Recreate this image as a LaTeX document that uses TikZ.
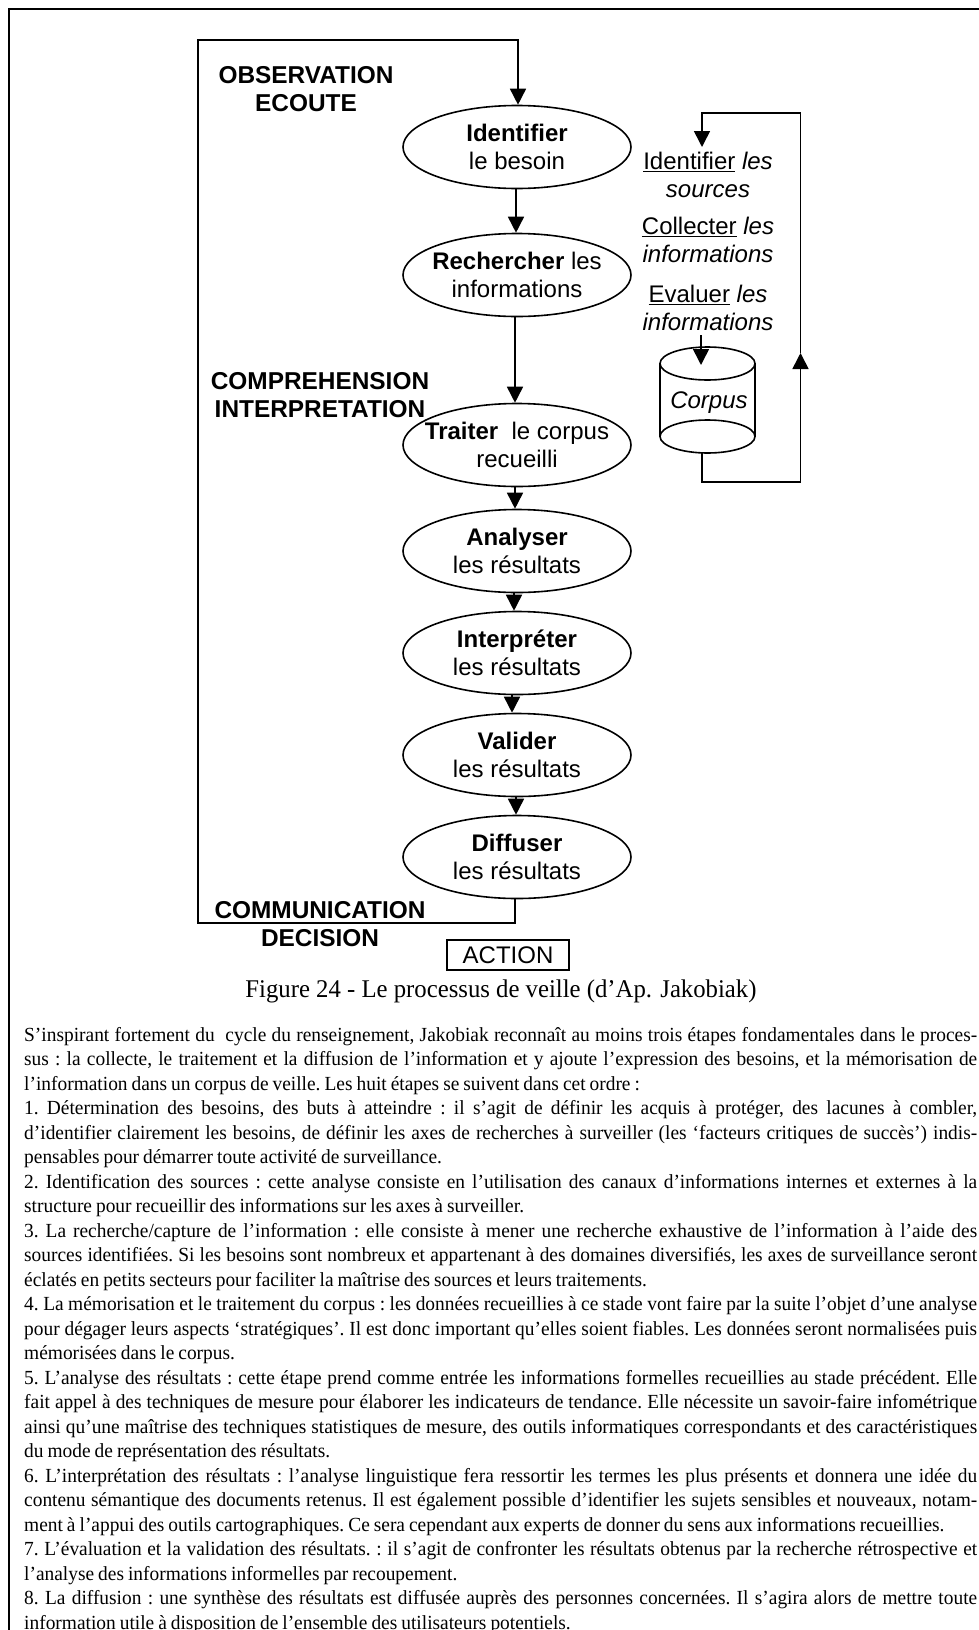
\documentclass[tikz,border=0pt]{standalone}
\usepackage{fontspec}
\setmainfont[FakeStretch=0.97]{Liberation Serif}
\newfontfamily\arialfont{Liberation Sans}
\usetikzlibrary{arrows.meta,shapes.geometric}
\tikzset{
  >={Triangle[length=16pt,width=16pt]},
  stepnode/.style={draw,ellipse,line width=1.6pt,minimum width=228pt,minimum height=83pt,inner sep=-20pt,align=center,font=\arialfont\fontsize{24}{28.5}\selectfont},
  phaselabel/.style={align=center,inner sep=0pt,font=\arialfont\bfseries\fontsize{24.4}{28.5}\selectfont},
  sidetext/.style={align=center,inner sep=0pt,font=\arialfont\fontsize{24}{28.5}\selectfont},
  wire/.style={line width=1.6pt}
}
\begin{document}
\begin{tikzpicture}[x=1pt,y=-1pt]
  \useasboundingbox (0,0) rectangle (979,1630);
  \draw[line width=2pt] (9,1630) -- (9,9) -- (979,9);

  \node[stepnode] (identifier) at (517,147) {\textbf{Identifier}\\le besoin};
  \node[stepnode] (rechercher) at (517,275) {\textbf{Rechercher} les\\informations};
  \node[stepnode] (traiter) at (517,445) {\textbf{Traiter}\ \ le corpus\\recueilli};
  \node[stepnode] (analyser) at (517,551) {\textbf{Analyser}\\les résultats};
  \node[stepnode] (interpreter) at (517,653) {\textbf{Interpréter}\\les résultats};
  \node[stepnode] (valider) at (517,755) {\textbf{Valider}\\les résultats};
  \node[stepnode] (diffuser) at (517,857) {\textbf{Diffuser}\\les résultats};

  \node[phaselabel] (observation) at (306,89) {OBSERVATION\\ECOUTE};
  \node[phaselabel] (comprehension) at (320,395) {COMPREHENSION\\INTERPRETATION};
  \node[phaselabel] (communication) at (320,924) {COMMUNICATION\\DECISION};

  \node[draw,line width=1.4pt,minimum width=122pt,minimum height=30pt,inner sep=0pt,font=\arialfont\fontsize{24}{28.5}\selectfont] (action) at (508,955) {ACTION};
  \node[inner sep=0pt,font=\fontsize{25.5}{30}\selectfont] (caption) at (501,991) {Figure 24 - Le processus de veille (d’Ap. Jakobiak)};

  \node[sidetext] (sources) at (708,175) {\underline{Identifier} \textit{les}\\\textit{sources}};
  \node[sidetext] (collecter) at (708,240) {\underline{Collecter} \textit{les}\\\textit{informations}};
  \node[sidetext] (evaluer) at (708,308) {\underline{Evaluer} \textit{les}\\\textit{informations}};

  \node[inner sep=0pt,font=\arialfont\itshape\fontsize{24}{28.5}\selectfont] (corpus) at (709,403) {Corpus};
  \draw[wire] (707.5,363.5) ellipse (47.5pt and 16.5pt);
  \draw[wire] (707.5,436.5) ellipse (47.5pt and 16.5pt);
  \draw[wire] (660,363.5) -- (660,436.5); \draw[wire] (755,363.5) -- (755,436.5);

  \coordinate (topleft) at (198,40); \coordinate (topright) at (518,40); \coordinate (bottomleft) at (198,923); \coordinate (bottomright) at (515,923);
  \coordinate (evalout) at (701,335); \coordinate (corpusin) at (701,365);
  \coordinate (corpusout) at (702,453); \coordinate (loopa) at (702,482); \coordinate (loopb) at (800.5,482); \coordinate (loopmid) at (800.5,353); \coordinate (loopc) at (800.5,113); \coordinate (loopd) at (702,113); \coordinate (loopend) at (702,147);

  \draw[wire,->] ([xshift=-2pt]diffuser.south) -- (bottomright) -- (bottomleft) -- (topleft) -- (topright) -- ([xshift=1pt]identifier.north);
  \draw[wire,->] ([xshift=-1pt]identifier.south) -- ([xshift=-1pt]rechercher.north);
  \draw[wire,->] ([xshift=-2pt]rechercher.south) -- ([xshift=-2pt]traiter.north);
  \draw[wire,->] ([xshift=-2pt]traiter.south) -- ([xshift=-2pt]analyser.north);
  \draw[wire,->] ([xshift=-3pt]analyser.south) -- ([xshift=-3pt]interpreter.north);
  \draw[wire,->] ([xshift=-5pt]interpreter.south) -- ([xshift=-5pt]valider.north);
  \draw[wire,->] ([xshift=-1pt]valider.south) -- ([xshift=-1pt]diffuser.north);

  \draw[wire,->] (evalout) -- (corpusin);
  \draw[wire,->] (corpusout) -- (loopa) -- (loopb) -- (loopmid);
  \draw[wire,->] (loopmid) -- (loopc) -- (loopd) -- (loopend);

  \node[anchor=north west,inner sep=0pt,text width=953pt,align=justify,font=\fontsize{20}{24.5}\selectfont] (body) at (24,1027) {\parindent=0pt\frenchspacing\spaceskip=0.2em plus 0.3em minus 0.11em\hyphenpenalty=10000\tolerance=9999\hbadness=10000
S’inspirant fortement du\ \ cycle du renseignement, Jakobiak reconnaît au moins trois étapes fondamentales dans le proces-\linebreak
sus : la collecte, le traitement et la diffusion de l’information et y ajoute l’expression des besoins, et la mémorisation de\linebreak
l’information dans un corpus de veille. Les huit étapes se suivent dans cet ordre :\par
1. Détermination des besoins, des buts à atteindre : il s’agit de définir les acquis à protéger, des lacunes à combler,\linebreak
d’identifier clairement les besoins, de définir les axes de recherches à surveiller (les ‘facteurs critiques de succès’) indis-\linebreak
pensables pour démarrer toute activité de surveillance.\par
2. Identification des sources : cette analyse consiste en l’utilisation des canaux d’informations internes et externes à la\linebreak
structure pour recueillir des informations sur les axes à surveiller.\par
3. La recherche/capture de l’information : elle consiste à mener une recherche exhaustive de l’information à l’aide des\linebreak
sources identifiées. Si les besoins sont nombreux et appartenant à des domaines diversifiés, les axes de surveillance seront\linebreak
éclatés en petits secteurs pour faciliter la maîtrise des sources et leurs traitements.\par
4. La mémorisation et le traitement du corpus : les données recueillies à ce stade vont faire par la suite l’objet d’une analyse\linebreak
pour dégager leurs aspects ‘stratégiques’. Il est donc important qu’elles soient fiables. Les données seront normalisées puis\linebreak
mémorisées dans le corpus.\par
5. L’analyse des résultats : cette étape prend comme entrée les informations formelles recueillies au stade précédent. Elle\linebreak
fait appel à des techniques de mesure pour élaborer les indicateurs de tendance. Elle nécessite un savoir-faire infométrique\linebreak
ainsi qu’une maîtrise des techniques statistiques de mesure, des outils informatiques correspondants et des caractéristiques\linebreak
du mode de représentation des résultats.\par
6. L’interprétation des résultats : l’analyse linguistique fera ressortir les termes les plus présents et donnera une idée du\linebreak
contenu sémantique des documents retenus. Il est également possible d’identifier les sujets sensibles et nouveaux, notam-\linebreak
ment à l’appui des outils cartographiques. Ce sera cependant aux experts de donner du sens aux informations recueillies.\par
7. L’évaluation et la validation des résultats. : il s’agit de confronter les résultats obtenus par la recherche rétrospective et\linebreak
l’analyse des informations informelles par recoupement.\par
8. La diffusion : une synthèse des résultats est diffusée auprès des personnes concernées. Il s’agira alors de mettre toute\linebreak
information utile à disposition de l’ensemble des utilisateurs potentiels.\par
};
\end{tikzpicture}
\end{document}
